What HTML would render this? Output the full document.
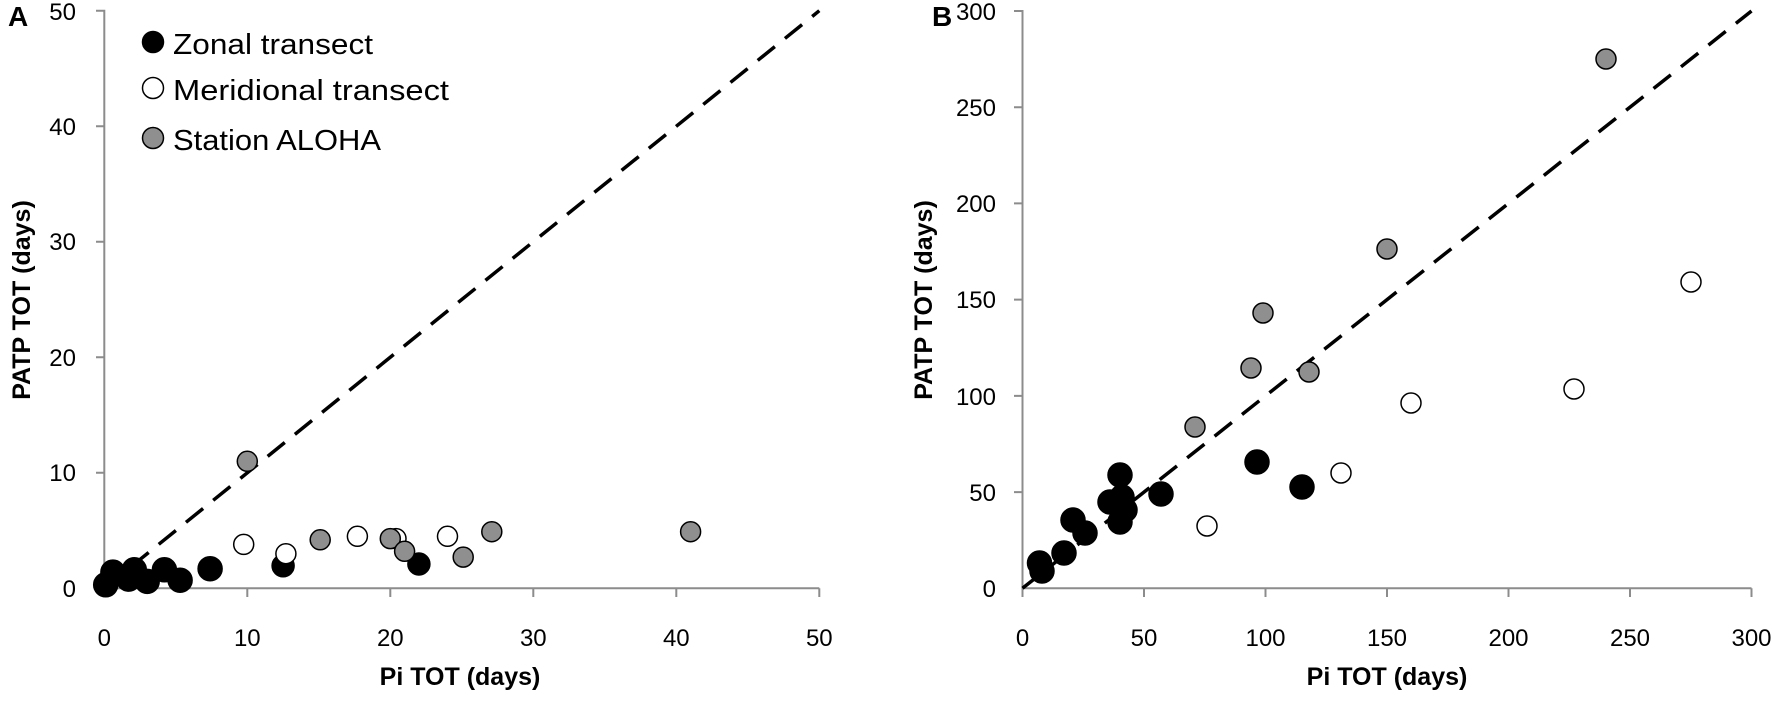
<!DOCTYPE html>
<html><head><meta charset="utf-8"><style>
html,body{margin:0;padding:0;background:#fff;}
svg{display:block;font-family:"Liberation Sans",sans-serif;}
</style></head><body>
<svg width="1772" height="706" viewBox="0 0 1772 706" xmlns="http://www.w3.org/2000/svg">
<!-- Panel A axes -->
<g stroke="#8c8c8c" stroke-width="2" fill="none">
<path d="M96 10.7H104.3V588.3H819.3"/>
<path d="M96 126.2H104.3M96 241.8H104.3M96 357.3H104.3M96 472.8H104.3"/>
<path d="M104.3 588.3V597M247.3 588.3V597M390.3 588.3V597M533.3 588.3V597M676.3 588.3V597M819.3 588.3V597"/>
</g>
<g font-size="24" fill="#000" text-anchor="end">
<text x="76" y="20">50</text><text x="76" y="135">40</text><text x="76" y="250">30</text><text x="76" y="366">20</text><text x="76" y="481">10</text><text x="76" y="597">0</text>
</g>
<g font-size="24" fill="#000" text-anchor="middle">
<text x="104.3" y="646">0</text><text x="247.3" y="646">10</text><text x="390.3" y="646">20</text><text x="533.3" y="646">30</text><text x="676.3" y="646">40</text><text x="819.3" y="646">50</text>
</g>
<text x="460" y="685" font-size="25" font-weight="bold" text-anchor="middle">Pi TOT (days)</text>
<text transform="translate(30,300) rotate(-90)" font-size="25" font-weight="bold" text-anchor="middle">PATP TOT (days)</text>
<text x="8" y="26" font-size="28" font-weight="bold">A</text>
<line x1="104.3" y1="588.3" x2="819.3" y2="10.7" stroke="#000" stroke-width="3.5" stroke-dasharray="22 13"/>
<!-- legend -->
<circle cx="153" cy="42" r="10.5" fill="#000" stroke="#000" stroke-width="1.5"/>
<circle cx="153" cy="88" r="10.5" fill="#fff" stroke="#000" stroke-width="1.5"/>
<circle cx="153" cy="138" r="10.5" fill="#8f8f8f" stroke="#000" stroke-width="1.5"/>
<g font-size="29" fill="#000">
<text x="173" y="54" textLength="200" lengthAdjust="spacingAndGlyphs">Zonal transect</text>
<text x="173" y="100" textLength="276" lengthAdjust="spacingAndGlyphs">Meridional transect</text>
<text x="173" y="150" textLength="208" lengthAdjust="spacingAndGlyphs">Station ALOHA</text>
</g>
<!-- A data -->
<g fill="#000" stroke="#000" stroke-width="1.5">
<circle cx="105.7" cy="584.8" r="12"/><circle cx="112.9" cy="572.1" r="12"/><circle cx="128.6" cy="579.1" r="12"/><circle cx="134.3" cy="569.8" r="12"/><circle cx="147.2" cy="581.4" r="12"/><circle cx="164.4" cy="569.8" r="12"/><circle cx="180.1" cy="580.2" r="12"/><circle cx="210.1" cy="568.7" r="12"/><circle cx="283.1" cy="565.8" r="11"/><circle cx="418.9" cy="564" r="11"/>
</g>
<g fill="#fff" stroke="#000" stroke-width="1.5">
<circle cx="243.7" cy="544.4" r="10"/><circle cx="285.9" cy="553.7" r="10"/><circle cx="357.4" cy="536.3" r="10"/><circle cx="396" cy="538.6" r="10"/><circle cx="447.5" cy="536.3" r="10"/>
</g>
<g fill="#8f8f8f" stroke="#000" stroke-width="1.5">
<circle cx="247.3" cy="461.3" r="10"/><circle cx="320.2" cy="539.8" r="10"/><circle cx="390.3" cy="538.6" r="10"/><circle cx="404.6" cy="551.3" r="10"/><circle cx="463.2" cy="557.1" r="10"/><circle cx="491.8" cy="531.7" r="10"/><circle cx="690.6" cy="531.7" r="10"/>
</g>

<!-- Panel B axes -->
<g stroke="#8c8c8c" stroke-width="2" fill="none">
<path d="M1014 11H1022.5V588.3H1751.5"/>
<path d="M1014 107.2H1022.5M1014 203.4H1022.5M1014 299.6H1022.5M1014 395.9H1022.5M1014 492.1H1022.5"/>
<path d="M1022.5 588.3V597M1144 588.3V597M1265.5 588.3V597M1387 588.3V597M1508.5 588.3V597M1630 588.3V597M1751.5 588.3V597"/>
</g>
<g font-size="24" fill="#000" text-anchor="end">
<text x="996" y="20">300</text><text x="996" y="116">250</text><text x="996" y="212">200</text><text x="996" y="308">150</text><text x="996" y="405">100</text><text x="996" y="501">50</text><text x="996" y="597">0</text>
</g>
<g font-size="24" fill="#000" text-anchor="middle">
<text x="1022.5" y="646">0</text><text x="1144" y="646">50</text><text x="1265.5" y="646">100</text><text x="1387" y="646">150</text><text x="1508.5" y="646">200</text><text x="1630" y="646">250</text><text x="1751.5" y="646">300</text>
</g>
<text x="1387" y="685" font-size="25" font-weight="bold" text-anchor="middle">Pi TOT (days)</text>
<text transform="translate(932,300) rotate(-90)" font-size="25" font-weight="bold" text-anchor="middle">PATP TOT (days)</text>
<text x="932" y="26" font-size="28" font-weight="bold">B</text>
<line x1="1022.5" y1="588.3" x2="1751.5" y2="11" stroke="#000" stroke-width="3.5" stroke-dasharray="22 13"/>
<g fill="#000" stroke="#000" stroke-width="1.5">
<circle cx="1039.5" cy="563" r="12"/><circle cx="1042" cy="571" r="12"/><circle cx="1064" cy="553" r="12"/><circle cx="1073" cy="520" r="12"/><circle cx="1085" cy="533" r="12"/><circle cx="1110" cy="502" r="12"/><circle cx="1120" cy="475" r="12"/><circle cx="1122" cy="497" r="12"/><circle cx="1125" cy="510" r="12"/><circle cx="1120" cy="522" r="12"/><circle cx="1161" cy="494" r="12"/><circle cx="1257" cy="462" r="12"/><circle cx="1302" cy="487" r="12"/>
</g>
<g fill="#fff" stroke="#000" stroke-width="1.5">
<circle cx="1207" cy="526" r="10"/><circle cx="1341" cy="473" r="10"/><circle cx="1411" cy="403" r="10"/><circle cx="1574" cy="389" r="10"/><circle cx="1691" cy="282" r="10"/>
</g>
<g fill="#8f8f8f" stroke="#000" stroke-width="1.5">
<circle cx="1195" cy="427" r="10"/><circle cx="1251" cy="368" r="10"/><circle cx="1263" cy="313" r="10"/><circle cx="1309" cy="372" r="10"/><circle cx="1387" cy="249" r="10"/><circle cx="1606" cy="59" r="10"/>
</g>
</svg>
</body></html>
